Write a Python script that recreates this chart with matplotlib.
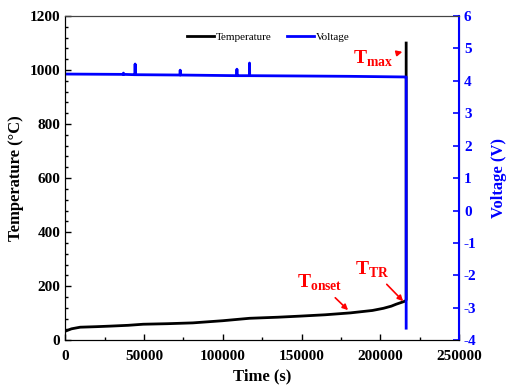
import matplotlib
matplotlib.use("Agg")
import matplotlib.pyplot as plt
from matplotlib.ticker import MultipleLocator

plt.rcParams['font.family'] = ['Liberation Serif', 'DejaVu Serif']
plt.rcParams['mathtext.fontset'] = 'custom'
plt.rcParams['mathtext.rm'] = 'Liberation Serif'
plt.rcParams['mathtext.bf'] = 'Liberation Serif:bold'
plt.rcParams['axes.unicode_minus'] = False

# temperature data (s, degC)
time_T = [0, 4000, 9500, 20000, 28500, 40000, 49500, 65000, 81000, 100000, 117000,
          135000, 149000, 165000, 181000, 195000, 202000, 207000, 210000, 213000,
          216000, 216400, 216400]
temp = [33, 42, 48, 50, 52, 55, 59, 61, 64, 72, 81, 85, 89, 94, 101, 110, 118,
        126, 133, 139, 145, 150, 1100]

# voltage data (s, V)
time_V = [0, 36900, 37000, 37100, 44300, 44400, 44500, 72900, 73000, 73100,
          108900, 109000, 109100, 116900, 117000, 117100, 150000, 180000,
          216300, 216400, 216400]
volt = [4.21, 4.2, 4.24, 4.2, 4.19, 4.52, 4.19, 4.18, 4.33, 4.18,
        4.16, 4.36, 4.16, 4.16, 4.55, 4.16, 4.15, 4.14, 4.12, 4.12, -3.63]

fig = plt.figure(figsize=(5.09, 3.91), dpi=100)
ax = fig.add_axes([0.128, 0.130, 0.774, 0.829])
ax2 = ax.twinx()

l1, = ax.plot(time_T, temp, color='black', lw=2, label='Temperature')
l2, = ax2.plot(time_V, volt, color='blue', lw=2, label='Voltage')

ax.set_xlim(0, 250000)
ax.set_ylim(0, 1200)
ax2.set_ylim(-4, 6)

ax.xaxis.set_major_locator(MultipleLocator(50000))
ax.xaxis.set_minor_locator(MultipleLocator(25000))
ax.yaxis.set_major_locator(MultipleLocator(200))
ax.yaxis.set_minor_locator(MultipleLocator(40))
ax2.yaxis.set_major_locator(MultipleLocator(1))

ax.tick_params(which='both', direction='in', top=False)
ax.tick_params(which='major', length=4, width=1, labelsize=11)
ax.tick_params(axis='x', which='major', pad=7)
ax.tick_params(which='minor', length=2, width=1)
ax2.tick_params(which='major', direction='in', length=4, width=1.2,
                colors='blue', labelsize=11)

for lab in ax.get_xticklabels() + ax.get_yticklabels() + ax2.get_yticklabels():
    lab.set_fontweight('bold')

ax2.spines['right'].set_color('blue')
ax2.spines['right'].set_linewidth(1.5)
ax2.spines['left'].set_color('black')
ax2.spines['top'].set_color('#444444')
ax.spines['top'].set_color('#444444')

ax.set_xlabel('Time (s)', fontsize=12, fontweight='bold', labelpad=4)
ax.set_ylabel('Temperature (\u00b0C)', fontsize=12, fontweight='bold')
ax2.set_ylabel('Voltage (V)', fontsize=12, fontweight='bold', color='blue',
               labelpad=10)

ax.legend(handles=[l1, l2], loc='upper left', bbox_to_anchor=(0.285, 0.98),
          ncol=2, frameon=False, fontsize=8, handlelength=2.4,
          columnspacing=1.4, handletextpad=0.15)

arrow = dict(arrowstyle='-|>', color='red', lw=1.2, mutation_scale=8)
ax.annotate(r'$\mathbf{T}_{\mathbf{max}}$', xy=(215700, 1070), xytext=(182700, 1040),
            color='red', fontsize=14, va='center', arrowprops=arrow)
ax.annotate(r'$\mathbf{T}_{\mathbf{onset}}$', xy=(180800, 104), xytext=(147200, 212),
            color='red', fontsize=14, va='center', arrowprops=arrow)
ax.annotate(r'$\mathbf{T}_{\mathbf{TR}}$', xy=(215700, 137), xytext=(184000, 262),
            color='red', fontsize=14, va='center', arrowprops=arrow)

fig.savefig('out.png', dpi=100)
